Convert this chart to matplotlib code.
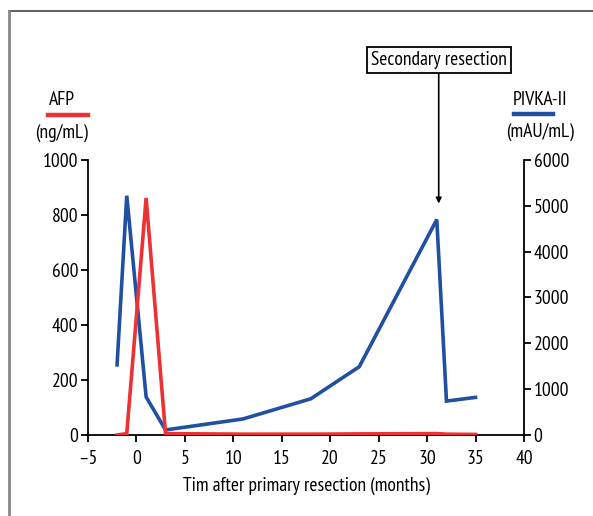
import matplotlib
matplotlib.use('Agg')
import matplotlib.pyplot as plt
from matplotlib.lines import Line2D

plt.rcParams['font.family'] = ['PT Sans Narrow', 'DejaVu Sans']
plt.rcParams['font.size'] = 14

# --- datos ---
months = [-2, -1, 1, 3, 11, 18, 23, 31, 32, 35]
afp = [0, 5, 862, 5, 3, 3, 4, 5, 3, 2]               # ng/mL
pivka = [1530, 5220, 830, 110, 350, 790, 1490, 4700, 740, 820]  # mAU/mL
xticks = [-5, 0, 5, 10, 15, 20, 25, 30, 35, 40]
afp_ticks = [0, 200, 400, 600, 800, 1000]
pivka_ticks = [0, 1000, 2000, 3000, 4000, 5000, 6000]

RED = '#EE3134'
BLUE = '#2150A2'

fig = plt.figure(figsize=(5.93, 5.16), dpi=100)
ax = fig.add_axes([0.1484, 0.157, 0.7352, 0.533])
ax2 = ax.twinx()

ax.plot(months, afp, color=RED, lw=2.6, solid_joinstyle='miter', zorder=3)
ax2.plot(months, pivka, color=BLUE, lw=2.6, solid_joinstyle='miter')
ax.set_zorder(ax2.get_zorder() + 1)
ax.patch.set_visible(False)

ax.set_xlim(-5, 40)
ax.set_ylim(0, 1000)
ax2.set_ylim(0, 6000)
ax.set_xticks(xticks)
ax.set_xticklabels(['\u20135' if t < 0 else str(t) for t in xticks])
ax.set_yticks(afp_ticks)
ax2.set_yticks(pivka_ticks)

for a in (ax, ax2):
    a.spines['top'].set_visible(False)
    for s in a.spines.values():
        s.set_linewidth(1.3)
    a.tick_params(direction='out', length=5, width=1.3, labelsize=14, pad=2)
ax.tick_params(axis='x', pad=6)
ax.spines['right'].set_visible(False)
ax2.spines['left'].set_visible(False)
ax2.spines['bottom'].set_visible(False)

ax.set_xlabel('Tim after primary resection (months)', fontsize=14, labelpad=6)

# --- etiquetas de ejes ---
fig.text(62 / 593, 1 - 100 / 516, 'AFP', ha='center', va='center', fontsize=14)
fig.add_artist(Line2D([48 / 593, 88 / 593], [1 - 115 / 516] * 2, color=RED, lw=3.2))
fig.text(62 / 593, 1 - 133 / 516, '(ng/mL)', ha='center', va='center', fontsize=14)
fig.text(540 / 593, 1 - 100 / 516, 'PIVKA-II', ha='center', va='center', fontsize=14)
fig.add_artist(Line2D([514 / 593, 553 / 593], [1 - 114 / 516] * 2, color=BLUE, lw=3.2))
fig.text(540 / 593, 1 - 132 / 516, '(mAU/mL)', ha='center', va='center', fontsize=14)

# --- anotación ---
ax2.annotate('Secondary resection', xy=(31.2, 5050), xytext=(31.2, 1 - 60 / 516),
             textcoords=('data', 'figure fraction'), ha='center', va='center', fontsize=14,
             bbox=dict(boxstyle='square,pad=0.2', fc='white', ec='black', lw=1.3),
             arrowprops=dict(arrowstyle='-|>', color='black', lw=1.2,
                             mutation_scale=8, shrinkA=0, shrinkB=0))

# --- marco ---
fig.add_artist(Line2D([9 / 593, 1], [1 - 11 / 516] * 2, color='#444444', lw=1.2))
fig.add_artist(Line2D([9 / 593] * 2, [0, 1 - 11 / 516], color='#888888', lw=2))

fig.savefig('out.png', dpi=100)
